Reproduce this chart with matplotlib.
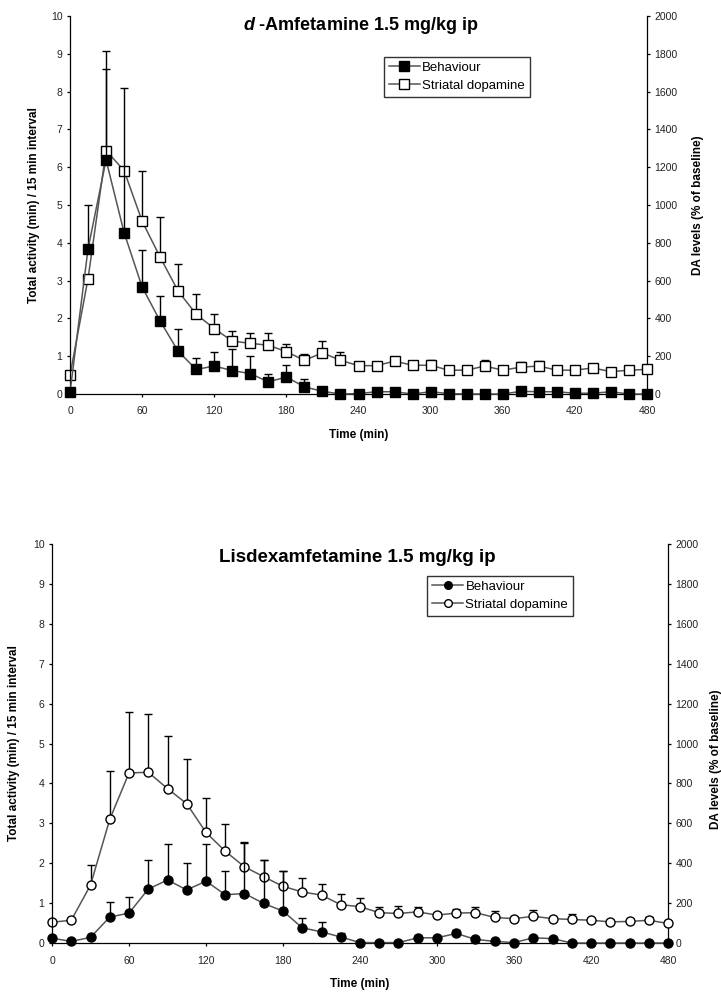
import numpy as np
import matplotlib
matplotlib.use("Agg")
import matplotlib.pyplot as plt
from matplotlib.lines import Line2D

plt.rcParams["font.family"] = ["Liberation Sans", "DejaVu Sans"]
plt.rcParams["mathtext.fontset"] = "custom"
plt.rcParams["mathtext.it"] = "Liberation Sans:italic:bold"
plt.rcParams["mathtext.rm"] = "Liberation Sans:bold"

time_min = list(range(0, 481, 15))
x_ticks = list(range(0, 481, 60))
left_ticks = list(range(0, 11))
right_ticks = list(range(0, 2001, 200))
legend_labels = ["Behaviour", "Striatal dopamine"]

# d-amfetamine: behaviour (min / 15 min) and striatal DA (% of baseline), upper SEM
amf_behaviour = [0.04, 3.84, 6.19, 4.27, 2.83, 1.93, 1.13, 0.65, 0.74, 0.62, 0.54,
                 0.32, 0.45, 0.19, 0.07, 0.0, 0.01, 0.06, 0.06, 0.0, 0.06, 0.01,
                 0.0, 0.0, 0.0, 0.07, 0.06, 0.06, 0.02, 0.02, 0.06, 0.0, 0.0]
amf_behaviour_sem = [0, 1.16, 2.41, 3.82, 0.97, 0.65, 0.59, 0.31, 0.37, 0.56, 0.46,
                     0.20, 0.33, 0.21, 0.03, 0, 0, 0, 0, 0, 0, 0,
                     0, 0, 0, 0, 0, 0, 0, 0, 0, 0, 0]
amf_dopamine = [100, 610, 1288, 1182, 914, 724, 544, 422, 346, 280, 268,
                258, 224, 178, 218, 178, 150, 150, 174, 152, 152, 126,
                126, 148, 126, 142, 148, 126, 126, 138, 118, 126, 130]
amf_dopamine_sem = [0, 0, 526, 0, 266, 210, 146, 106, 78, 52, 56,
                    66, 42, 34, 62, 44, 10, 10, 16, 8, 26, 8,
                    8, 30, 8, 28, 26, 8, 8, 8, 8, 8, 8]

# lisdexamfetamine
lis_behaviour = [0.12, 0.04, 0.14, 0.65, 0.75, 1.35, 1.58, 1.33, 1.55, 1.21, 1.24,
                 0.99, 0.80, 0.38, 0.28, 0.15, 0.01, 0.01, 0.01, 0.13, 0.13, 0.24,
                 0.09, 0.04, 0.01, 0.13, 0.11, 0.0, 0.0, 0.0, 0.0, 0.0, 0.0]
lis_behaviour_sem = [0, 0, 0, 0.39, 0.40, 0.74, 0.89, 0.67, 0.93, 0.60, 1.28,
                     1.09, 1.00, 0.25, 0.24, 0.09, 0, 0, 0, 0.07, 0, 0.09,
                     0, 0, 0, 0.05, 0, 0, 0, 0, 0, 0, 0]
lis_dopamine = [104, 114, 290, 620, 852, 856, 774, 698, 554, 460, 382,
                332, 284, 256, 240, 192, 182, 152, 148, 156, 140, 150,
                152, 128, 122, 134, 122, 118, 114, 106, 108, 114, 98]
lis_dopamine_sem = [0, 0, 100, 242, 304, 294, 262, 224, 174, 138, 120,
                    84, 76, 68, 58, 56, 42, 30, 38, 26, 10, 22,
                    28, 32, 10, 32, 10, 26, 10, 10, 10, 16, 10]

LINE_COLOR = "#555555"
TEXT_COLOR = "#222222"


def style_axis(ax, side):
    ax.spines["top"].set_visible(False)
    for name in ("left", "right", "bottom"):
        ax.spines[name].set_linewidth(0.9)
    ax.tick_params(direction="out", length=2.5, width=0.9, labelsize=7.5,
                   labelcolor=TEXT_COLOR, pad=3)
    if side == "left":
        ax.spines["right"].set_visible(False)
        ax.tick_params(axis="x", pad=6.5)
    else:
        ax.spines["left"].set_visible(False)
        ax.spines["bottom"].set_visible(False)


def draw_series(ax, y, sem, marker, facecolor, msize):
    y = np.asarray(y, dtype=float)
    sem = np.asarray(sem, dtype=float)
    eb = ax.errorbar(time_min, y, yerr=[np.zeros_like(sem), sem], fmt="none",
                     ecolor="black", elinewidth=1.0, capsize=3, capthick=1.0,
                     zorder=2)
    for child in eb.get_children():
        child.set_clip_on(False)
    ax.plot(time_min, y, "-", color=LINE_COLOR, lw=1.1, marker=marker,
            ms=msize, mfc=facecolor, mec="black", mew=1.0, zorder=3,
            clip_on=False)


def draw_panel(rect, behaviour, behaviour_sem, dopamine, dopamine_sem,
               marker, msize, title, title_xy, title_size, legend_xy,
               label_x, right_label_y):
    ax = fig.add_axes(rect)
    ax2 = ax.twinx()
    ax.set_zorder(ax2.get_zorder() + 1)
    ax.patch.set_visible(False)

    draw_series(ax2, dopamine, dopamine_sem, marker, "white", msize)
    draw_series(ax, behaviour, behaviour_sem, marker, "black", msize)

    ax.set_xlim(0, 480)
    ax.set_ylim(0, 10)
    ax2.set_ylim(0, 2000)
    ax.set_xticks(x_ticks)
    ax.set_yticks(left_ticks)
    ax2.set_yticks(right_ticks)
    style_axis(ax, "left")
    style_axis(ax2, "right")

    ax.set_xlabel("Time (min)", fontsize=8.5, fontweight="bold", labelpad=9)
    ax.set_ylabel("Total activity (min) / 15 min interval", fontsize=8.5,
                  fontweight="bold")
    ax.yaxis.set_label_coords(label_x[0], 0.5)
    ax2.set_ylabel("DA levels (% of baseline)", fontsize=8.5, fontweight="bold")
    ax2.yaxis.set_label_coords(label_x[1], right_label_y)

    ax.text(title_xy[0], title_xy[1], title, transform=ax.transAxes,
            ha="center", va="center", fontsize=title_size, fontweight="bold")

    handles = [
        Line2D([], [], color=LINE_COLOR, lw=1.1, marker=marker, ms=msize - 1,
               mfc="black", mec="black"),
        Line2D([], [], color=LINE_COLOR, lw=1.1, marker=marker, ms=msize - 1,
               mfc="white", mec="black"),
    ]
    leg = ax.legend(handles, legend_labels, loc="upper left",
                    bbox_to_anchor=legend_xy, borderaxespad=0, fontsize=9.5,
                    frameon=True, fancybox=False, handlelength=2.4,
                    handletextpad=0.15, borderpad=0.35, labelspacing=0.45,
                    numpoints=1)
    leg.get_frame().set_edgecolor("black")
    leg.get_frame().set_linewidth(1.0)
    return ax, ax2


fig = plt.figure(figsize=(7.21, 9.92), dpi=100)

draw_panel([70 / 721, 1 - 394 / 992, 577 / 721, 378 / 992],
           amf_behaviour, amf_behaviour_sem, amf_dopamine, amf_dopamine_sem,
           "s", 7.5, r"$\it{d}$ -Amfetamine 1.5 mg/kg ip", (0.504, 0.976), 13,
           (0.544, 0.8915), (-0.052, 1.078), 0.5)

draw_panel([52 / 721, 1 - 943 / 992, 616 / 721, 399 / 992],
           lis_behaviour, lis_behaviour_sem, lis_dopamine, lis_dopamine_sem,
           "o", 6.5, "Lisdexamfetamine 1.5 mg/kg ip", (0.495, 0.965), 13.5,
           (0.609, 0.92), (-0.052, 1.068), 0.46)

fig.savefig("out.png", dpi=100)
